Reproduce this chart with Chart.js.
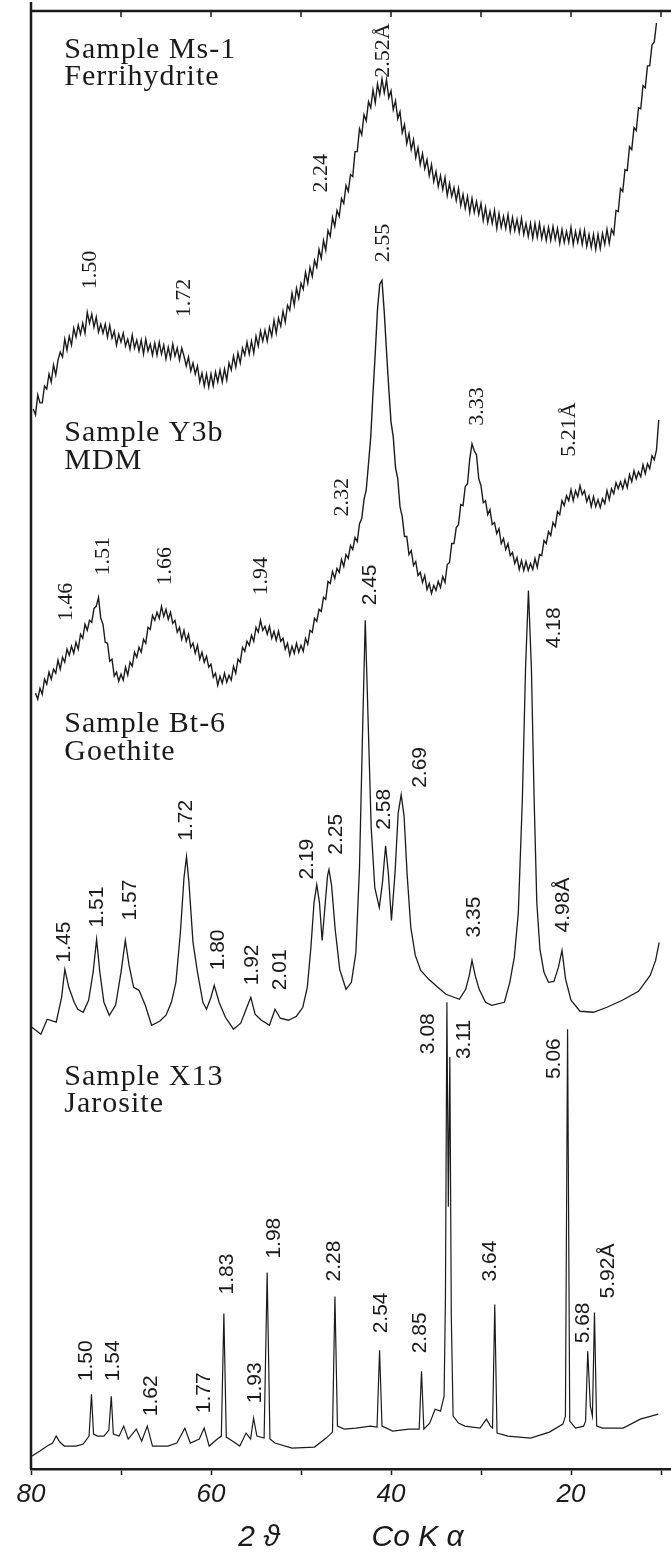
<!DOCTYPE html>
<html>
<head>
<meta charset="utf-8">
<script src="https://cdn.jsdelivr.net/npm/chart.js@4.4.1/dist/chart.umd.min.js"></script>
<style>
  html, body { margin: 0; padding: 0; background: #ffffff; }
  canvas { display: block; }
</style>
</head>
<body>
<canvas id="xrd" width="671" height="1563"></canvas>
<script>
// X-ray powder patterns, Co K-alpha radiation, stacked (arbitrary intensity units)

const axisTicks = [10, 20, 30, 40, 50, 60, 70, 80];
const labelledTicks = [80, 60, 40, 20];

const scanStep = 0.25;

// Sample Ms-1, ferrihydrite (step scan from 79.75 deg 2theta downwards)
const ferrihydriteStart = 79.75;
const ferrihydriteCounts = [
  1063, 1057, 1077, 1069,  1069, 1086, 1083, 1098,  1090, 1107, 1097, 1112,
  1120, 1115, 1133, 1122,  1136, 1127, 1144, 1135,  1147, 1138, 1149, 1139,
  1160, 1149, 1158, 1145,  1155, 1140, 1148, 1139,  1148, 1135, 1147, 1134,
  1141, 1127, 1138, 1130,  1139, 1126, 1133, 1123,  1137, 1124, 1132, 1121,
  1132, 1118, 1133, 1121,  1128, 1117, 1129, 1117,  1130, 1118, 1127, 1113,
  1125, 1114, 1128, 1116,  1124, 1112, 1124, 1116,  1106, 1115, 1101, 1109,
  1098, 1106, 1090, 1099,  1086, 1098, 1085, 1098,  1086, 1100, 1090, 1102,
  1090, 1103, 1092, 1109,  1102, 1116, 1105, 1119,  1109, 1124, 1117, 1130,
  1118, 1131, 1119, 1136,  1126, 1141, 1131, 1142,  1131, 1145, 1136, 1152,
  1139, 1154, 1146, 1161,  1150, 1167, 1162, 1179,  1167, 1184, 1174, 1189,
  1183, 1200, 1189, 1205,  1196, 1212, 1205, 1223,  1214, 1232, 1222, 1242,
  1236, 1255, 1246, 1262,  1256, 1274, 1269, 1287,  1281, 1298, 1296, 1321,
  1321, 1344, 1338, 1358,  1352, 1371, 1365, 1383,  1370, 1389, 1378, 1394,
  1380, 1393, 1375, 1382,  1363, 1372, 1354, 1361,  1340, 1348, 1329, 1339,
  1323, 1333, 1315, 1325,  1308, 1319, 1304, 1313,  1297, 1308, 1291, 1301,
  1286, 1297, 1283, 1295,  1277, 1289, 1276, 1285,  1272, 1284, 1267, 1278,
  1264, 1276, 1260, 1274,  1260, 1271, 1258, 1269,  1252, 1265, 1250, 1261,
  1249, 1262, 1244, 1259,  1245, 1256, 1244, 1258,  1241, 1255, 1242, 1253,
  1240, 1254, 1238, 1249,  1236, 1249, 1234, 1249,  1235, 1249, 1234, 1245,
  1232, 1245, 1232, 1246,  1233, 1244, 1229, 1243,  1230, 1241, 1230, 1245,
  1228, 1241, 1230, 1242,  1228, 1242, 1226, 1238,  1225, 1238, 1223, 1238,
  1224, 1239, 1228, 1243,  1229, 1243, 1238, 1262,  1261, 1284, 1281, 1303,
  1302, 1326, 1323, 1345,  1342, 1365, 1364, 1387,  1385, 1407, 1407, 1428,
  1431, 1450
];

// Sample Y3b, MDM
const mdmStart = 79.5;
const mdmCounts = [
  778, 772, 783, 777, 792, 787, 799, 792, 802, 798, 811, 802, 814, 809, 822, 816,
  825, 818, 829, 822, 837, 833, 847, 841, 851, 849, 863, 865, 874, 853, 847, 829,
  828, 810, 812, 795, 799, 790, 797, 791, 804, 796, 809, 805, 819, 814, 824, 819,
  832, 828, 844, 842, 856, 851, 859, 853, 865, 855, 862, 852, 859, 848, 851, 839,
  844, 832, 841, 830, 837, 824, 828, 818, 826, 812, 819, 809, 815, 804, 807, 794,
  798, 786, 795, 788, 798, 789, 796, 791, 805, 798, 812, 809, 824, 820, 830, 826,
  836, 830, 844, 839, 851, 841, 845, 837, 845, 833, 840, 831, 840, 830, 833, 822,
  828, 816, 825, 818, 828, 819, 826, 820, 833, 827, 841, 839, 853, 850, 862, 860,
  874, 872, 890, 888, 900, 893, 903, 899, 912, 905, 917, 913, 926, 922, 934, 930,
  948, 953, 972, 982, 1008, 1035, 1079, 1119, 1163, 1188, 1192, 1160, 1121, 1084, 1050, 1035,
  1004, 993, 965, 955, 935, 935, 917, 921, 906, 910, 896, 899, 889, 896, 882, 888,
  878, 886, 881, 890, 884, 895, 889, 907, 909, 928, 928, 944, 947, 967, 966, 985,
  988, 1013, 1028, 1021, 1017, 993, 986, 969, 971, 957, 962, 947, 949, 938, 943, 928,
  933, 922, 928, 916, 919, 908, 914, 902, 911, 901, 910, 901, 908, 902, 913, 904,
  917, 916, 931, 928, 940, 936, 949, 945, 960, 957, 971, 966, 976, 971, 982, 971,
  981, 975, 986, 977, 981, 970, 976, 965, 975, 965, 972, 964, 973, 968, 981, 972,
  983, 978, 989, 983, 990, 983, 992, 984, 997, 990, 1001, 993, 1000, 995, 1007, 998,
  1008, 1003, 1016, 1012, 1022, 1052
];

// Sample Bt-6, goethite: [2theta, intensity]
const goethitePattern = [
  [79.9, 443], [78.9, 436], [78.2, 451], [77.2, 448], [76.6, 473], [76.24, 501], [75.8, 483],
  [75.2, 468], [74.8, 461], [74.2, 458], [73.6, 470], [73.1, 498], [72.71, 531], [72.35, 498],
  [71.9, 468], [71.3, 455], [70.6, 465], [70.0, 498], [69.52, 530], [69.1, 505], [68.6, 483],
  [68.0, 480], [67.3, 465], [66.6, 445], [65.7, 449], [65.0, 455], [64.4, 468], [63.9, 488],
  [63.4, 538], [63.0, 593], [62.72, 614], [62.45, 588], [62.0, 528], [61.5, 498], [60.9, 468],
  [60.5, 461], [60.0, 473], [59.64, 485], [59.1, 468], [58.4, 453], [57.5, 441], [56.7, 447],
  [56.1, 461], [55.58, 473], [55.1, 456], [54.4, 450], [53.5, 445], [52.89, 461], [52.3, 452],
  [51.4, 450], [50.5, 454], [49.8, 463], [49.3, 483], [48.9, 523], [48.55, 568], [48.25, 586],
  [47.95, 568], [47.65, 530], [47.3, 568], [47.05, 595], [46.89, 601], [46.6, 585], [46.2, 541],
  [45.7, 501], [45.0, 481], [44.4, 488], [43.9, 518], [43.5, 603], [43.15, 743], [42.86, 851],
  [42.55, 753], [42.2, 643], [41.8, 583], [41.3, 563], [40.95, 588], [40.6, 625], [40.3, 598],
  [39.95, 550], [39.55, 598], [39.2, 658], [38.87, 676], [38.55, 655], [38.2, 595], [37.8, 543],
  [37.3, 515], [36.7, 500], [35.8, 491], [34.8, 483], [33.9, 476], [32.4, 471], [31.7, 481],
  [31.3, 495], [31.0, 510], [30.65, 495], [30.2, 481], [29.5, 468], [28.8, 465], [27.4, 468],
  [26.8, 488], [26.3, 513], [25.85, 558], [25.4, 673], [25.05, 803], [24.73, 881], [24.4, 803],
  [24.1, 673], [23.8, 568], [23.45, 521], [23.0, 498], [22.5, 488], [21.9, 489], [21.4, 503],
  [21.0, 520], [20.6, 491], [20.0, 470], [19.0, 459], [17.5, 458], [16.0, 463], [14.3, 470],
  [12.5, 479], [11.2, 495], [10.6, 510], [10.2, 528]
];

// Sample X13, jarosite: [2theta, intensity]
const jarositePattern = [
  [79.9, 13], [79.0, 18], [78.2, 23], [77.6, 26], [77.2, 33], [76.8, 27], [76.3, 23], [75.0, 23],
  [74.2, 25], [73.55, 33], [73.28, 75], [73.05, 35], [72.6, 33], [71.9, 33], [71.35, 39],
  [71.08, 73], [70.85, 35], [70.2, 33], [69.7, 43], [69.2, 30], [68.3, 40], [67.7, 28],
  [67.08, 43], [66.5, 23], [64.8, 23], [63.8, 26], [62.9, 41], [62.3, 26], [61.3, 30],
  [60.76, 41], [60.2, 23], [59.3, 30], [58.85, 33], [58.57, 156], [58.3, 32], [57.8, 29],
  [56.8, 23], [56.1, 36], [55.6, 30], [55.27, 51], [54.9, 33], [54.1, 31], [53.76, 197],
  [53.45, 30], [52.9, 26], [51.0, 21], [48.5, 22], [47.2, 31], [46.5, 37], [46.23, 173],
  [45.95, 43], [45.2, 40], [43.9, 41], [42.3, 43], [41.55, 42], [41.27, 119], [41.0, 43],
  [39.8, 38], [38.0, 40], [36.87, 40], [36.61, 98], [36.35, 40], [35.7, 46], [35.1, 60],
  [34.5, 58], [34.1, 73], [33.95, 173], [33.79, 468], [33.63, 263], [33.46, 413], [33.3, 153],
  [33.1, 53], [32.5, 46], [31.8, 43], [30.1, 41], [29.4, 50], [28.95, 43], [28.72, 41],
  [28.47, 165], [28.22, 36], [27.0, 33], [24.5, 31], [22.4, 37], [20.9, 45], [20.62, 53],
  [20.38, 441], [20.14, 48], [19.5, 41], [18.6, 43], [18.38, 48], [18.14, 118], [17.85, 63],
  [17.62, 53], [17.39, 157], [17.15, 43], [16.5, 41], [14.2, 41], [12.3, 50], [10.3, 55]
];

const sampleNames = ['Sample Ms-1', 'Sample Y3b', 'Sample Bt-6', 'Sample X13'];
const mineralNames = ['Ferrihydrite', 'MDM', 'Goethite', 'Jarosite'];

// d-spacing annotations: [text, 2theta, intensity level of the label foot]
const ferrihydritePeaks = [['2.52Å', 40.9, 1395], ['2.24', 47.8, 1280], ['1.50', 73.4, 1183], ['1.72', 63.0, 1155]];
const mdmPeaks = [['2.55', 40.9, 1210], ['3.33', 30.4, 1046], ['5.21Å', 20.2, 1015], ['2.32', 45.4, 955],
  ['1.46', 76.1, 850], ['1.51', 72.0, 896], ['1.66', 65.1, 886], ['1.94', 54.4, 876]];
const goethitePeaks = [['2.45', 42.3, 866], ['4.18', 21.9, 823], ['2.69', 36.7, 683], ['2.58', 40.7, 641],
  ['2.25', 46.1, 616], ['2.19', 49.3, 591], ['1.72', 62.7, 630], ['1.57', 69.0, 550], ['1.51', 72.6, 543],
  ['1.45', 76.3, 508], ['1.80', 59.2, 500], ['1.92', 55.4, 485], ['2.01', 52.3, 480], ['3.35', 30.7, 533],
  ['4.98Å', 20.9, 538]];
const jarositePeaks = [['3.08', 35.9, 416], ['3.11', 31.9, 411], ['5.06', 21.9, 391], ['1.98', 53.0, 211],
  ['1.83', 58.2, 175], ['2.28', 46.3, 188], ['2.54', 41.1, 136], ['2.85', 36.7, 116], ['3.64', 29.0, 188],
  ['5.68', 18.6, 126], ['5.92Å', 15.9, 171], ['1.50', 73.9, 88], ['1.54', 70.9, 88], ['1.62', 66.6, 53],
  ['1.77', 60.7, 56], ['1.93', 55.1, 66]];

// ---- drawing ----
const ink = '#1b1b1b';
const serif = '"Liberation Serif", "DejaVu Serif", serif';
const sans = '"Liberation Sans", "DejaVu Sans", Arial, sans-serif';

const stepSeries = (start, counts) => counts.map((c, i) => ({ x: +(start - i * scanStep).toFixed(2), y: c }));
const pairSeries = arr => arr.map(([x, y]) => ({ x, y }));

const nameAnchors = { x: 76.3, lines: [[1415, 1388], [1031, 1003], [739, 711], [385, 358]] };

const paperPlugin = {
  id: 'paper',
  beforeDraw(chart) {
    const c = chart.ctx;
    c.save();
    c.fillStyle = '#ffffff';
    c.fillRect(0, 0, chart.width, chart.height);
    c.restore();
  }
};

const framePlugin = {
  id: 'frame',
  afterDraw(chart) {
    const c = chart.ctx, a = chart.chartArea, xs = chart.scales.x;
    c.save();
    c.strokeStyle = ink;
    c.lineWidth = 2.5;
    c.beginPath();
    c.moveTo(a.left, 2);
    c.lineTo(a.left, a.bottom);
    c.moveTo(a.left, a.top);
    c.lineTo(a.right, a.top);
    c.stroke();
    c.lineWidth = 1.5;
    c.beginPath();
    axisTicks.forEach(v => {
      const px = xs.getPixelForValue(v);
      if (px > a.left + 2) { c.moveTo(px, a.top); c.lineTo(px, a.top + 6); }
    });
    c.stroke();
    c.restore();
  }
};

const annotationPlugin = {
  id: 'peakText',
  afterDraw(chart) {
    const c = chart.ctx, xs = chart.scales.x, ys = chart.scales.y;
    c.save();
    c.fillStyle = ink;
    // sample names
    c.font = '30px ' + serif;
    c.letterSpacing = '1px';
    c.textAlign = 'left';
    c.textBaseline = 'alphabetic';
    const nx = xs.getPixelForValue(nameAnchors.x);
    sampleNames.forEach((s, i) => {
      c.fillText(s, nx, ys.getPixelForValue(nameAnchors.lines[i][0]));
      c.fillText(mineralNames[i], nx, ys.getPixelForValue(nameAnchors.lines[i][1]));
    });
    c.letterSpacing = '0px';
    // d-spacings, written upwards
    const groups = [[ferrihydritePeaks, '22px ' + serif], [mdmPeaks, '22px ' + serif],
                    [goethitePeaks, '21px ' + sans], [jarositePeaks, '21px ' + sans]];
    groups.forEach(([list, font]) => {
      c.font = font;
      list.forEach(([t, tt, lvl]) => {
        c.save();
        c.translate(xs.getPixelForValue(tt), ys.getPixelForValue(lvl));
        c.rotate(-Math.PI / 2);
        c.textAlign = 'left';
        c.textBaseline = 'middle';
        c.fillText(t, 0, 0);
        c.restore();
      });
    });
    c.restore();
  }
};

const traceStyle = { borderColor: ink, borderWidth: 1.2, pointRadius: 0, tension: 0, fill: false };

new Chart(document.getElementById('xrd'), {
  type: 'line',
  data: {
    datasets: [
      { label: 'Ferrihydrite', data: stepSeries(ferrihydriteStart, ferrihydriteCounts), ...traceStyle, borderWidth: 1.4 },
      { label: 'MDM', data: stepSeries(mdmStart, mdmCounts), ...traceStyle, borderWidth: 1.4 },
      { label: 'Goethite', data: pairSeries(goethitePattern), ...traceStyle, borderWidth: 1.3 },
      { label: 'Jarosite', data: pairSeries(jarositePattern), ...traceStyle, borderWidth: 1.2 }
    ]
  },
  options: {
    responsive: false,
    animation: false,
    devicePixelRatio: 1,
    layout: { padding: { left: 31, right: 0, top: 11, bottom: 7.8 } },
    plugins: { legend: { display: false }, tooltip: { enabled: false } },
    scales: {
      x: {
        type: 'linear',
        reverse: true,
        min: 80 - 640 / 9,
        max: 80,
        afterBuildTicks: s => { s.ticks = axisTicks.map(v => ({ value: v })); },
        ticks: {
          autoSkip: false,
          maxRotation: 0,
          padding: 4,
          color: ink,
          font: { family: sans, size: 26, style: 'italic' },
          callback: v => labelledTicks.includes(v) ? String(v) : ''
        },
        grid: { display: true, drawOnChartArea: false, drawTicks: true, tickLength: 6, tickWidth: 1.5, tickColor: ink },
        border: { display: true, width: 2.5, color: ink },
        title: {
          display: true,
          text: '2 ϑ           Co K α',
          color: ink,
          font: { family: sans, size: 30, style: 'italic' },
          padding: { top: 5, bottom: 0 }
        }
      },
      y: { display: false, min: 0, max: 1462 }
    }
  },
  plugins: [paperPlugin, framePlugin, annotationPlugin]
});
</script>
</body>
</html>
